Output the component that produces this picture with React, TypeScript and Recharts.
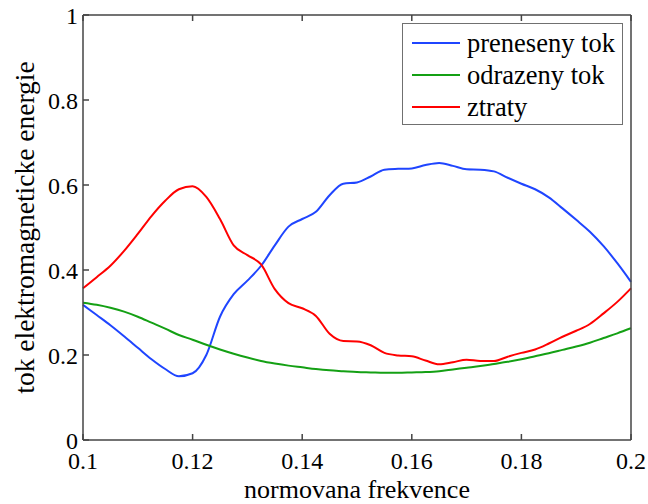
import React from 'react';
import { LineChart, Line, XAxis, YAxis, Legend } from 'recharts';

const FONT = "'Liberation Serif', 'DejaVu Serif', 'Noto Serif', Tinos, 'Times New Roman', Times, serif";

const frequencies = [
  0.1, 0.1025, 0.105, 0.1075, 0.11, 0.1125, 0.115, 0.1175, 0.12, 0.1225,
  0.125, 0.1275, 0.13, 0.1325, 0.135, 0.1375, 0.14, 0.1425, 0.145, 0.1475,
  0.15, 0.1525, 0.155, 0.1575, 0.16, 0.1625, 0.165, 0.1675, 0.17, 0.1725,
  0.175, 0.1775, 0.18, 0.1825, 0.185, 0.1875, 0.19, 0.1925, 0.195, 0.1975, 0.2,
];

const prenesenyTok = [
  0.318, 0.294, 0.27, 0.244, 0.217, 0.19, 0.167, 0.15, 0.157, 0.2,
  0.29, 0.343, 0.375, 0.41, 0.458, 0.502, 0.52, 0.537, 0.576, 0.603,
  0.606, 0.62, 0.636, 0.638, 0.639, 0.647, 0.652, 0.645, 0.637, 0.636,
  0.632, 0.617, 0.603, 0.59, 0.571, 0.545, 0.518, 0.49, 0.456, 0.416, 0.372,
];

const odrazenyTok = [
  0.323, 0.318, 0.311, 0.302, 0.29, 0.276, 0.262, 0.247, 0.236, 0.224,
  0.213, 0.203, 0.194, 0.186, 0.18, 0.175, 0.171, 0.167, 0.164, 0.162,
  0.16, 0.159, 0.158, 0.158, 0.159, 0.16, 0.162, 0.166, 0.17, 0.174,
  0.179, 0.184, 0.19, 0.197, 0.204, 0.212, 0.22, 0.229, 0.24, 0.251, 0.263,
];

const ztraty = [
  0.357, 0.383, 0.41, 0.445, 0.485, 0.527, 0.563, 0.59, 0.597, 0.572,
  0.52, 0.458, 0.435, 0.413, 0.355, 0.322, 0.31, 0.292, 0.25, 0.233,
  0.232, 0.223, 0.205, 0.199, 0.197, 0.187, 0.178, 0.183, 0.189, 0.186,
  0.186, 0.196, 0.205, 0.213, 0.227, 0.243, 0.257, 0.273, 0.298, 0.325, 0.357,
];

const xTicks = [0.1, 0.12, 0.14, 0.16, 0.18, 0.2];
const yTicks = [0, 0.2, 0.4, 0.6, 0.8, 1];

const seriesKeys = ['preneseny', 'odrazeny', 'ztraty'];
const seriesNames = ['preneseny tok', 'odrazeny tok', 'ztraty'];
const seriesColors = ['#1f45ff', '#14a014', '#ff0000'];

const data = frequencies.map((f, i) => ({
  f,
  preneseny: prenesenyTok[i],
  odrazeny: odrazenyTok[i],
  ztraty: ztraty[i],
}));

const AXIS_COLOR = '#444';
const tickStyle = { fill: '#000', fontSize: 24, fontFamily: FONT };

const LegendBox = () => (
  <div
    style={{
      boxSizing: 'border-box',
      width: 221,
      height: 102,
      border: '1px solid #707070',
      background: '#fff',
      paddingTop: 3,
      fontFamily: FONT,
      fontSize: 26.5,
      color: '#000',
    }}
  >
    {seriesNames.map((name, i) => (
      <div
        key={name}
        style={{ display: 'flex', alignItems: 'center', height: 32, lineHeight: '32px' }}
      >
        <svg width={48} height={4} style={{ display: 'block', marginLeft: 9, marginRight: 7 }}>
          <line x1={0} y1={2} x2={48} y2={2} stroke={seriesColors[i]} strokeWidth={2} />
        </svg>
        <span style={{ whiteSpace: 'nowrap' }}>{name}</span>
      </div>
    ))}
  </div>
);

export default function App() {
  return (
    <div style={{ position: 'absolute', left: 0, top: 0, width: 648, height: 504, background: '#fff', fontFamily: FONT }}>
      <LineChart width={648} height={504} data={data} margin={{ top: 0, right: 0, bottom: 0, left: 0 }}>
        <XAxis
          xAxisId="b"
          dataKey="f"
          type="number"
          domain={[0.1, 0.2]}
          ticks={xTicks}
          interval={0}
          height={64}
          stroke={AXIS_COLOR}
          strokeWidth={1.5}
          tickSize={-6}
          tickMargin={18}
          tick={tickStyle}
          tickFormatter={(v: number) => String(v)}
          label={{
            value: 'normovana frekvence',
            position: 'insideBottom',
            offset: 6,
            style: { fontFamily: FONT, fontSize: 26, fill: '#000' },
          }}
        />
        <XAxis
          xAxisId="t"
          dataKey="f"
          type="number"
          orientation="top"
          domain={[0.1, 0.2]}
          ticks={xTicks}
          interval={0}
          height={15}
          stroke={AXIS_COLOR}
          strokeWidth={1.5}
          tickSize={-6}
          tickFormatter={() => ''}
        />
        <YAxis
          yAxisId="l"
          type="number"
          domain={[0, 1]}
          ticks={yTicks}
          interval={0}
          width={83}
          stroke={AXIS_COLOR}
          strokeWidth={1.5}
          tickSize={-6}
          tickMargin={11}
          tick={tickStyle}
          tickFormatter={(v: number) => String(v)}
          label={{
            value: 'tok elektromagneticke energie',
            angle: -90,
            position: 'center',
            dx: -17,
            style: { fontFamily: FONT, fontSize: 27.5, fill: '#000', textAnchor: 'middle' },
          }}
        />
        <YAxis
          yAxisId="r"
          type="number"
          orientation="right"
          domain={[0, 1]}
          ticks={yTicks}
          interval={0}
          width={17}
          stroke={AXIS_COLOR}
          strokeWidth={1.5}
          tickSize={-6}
          tickFormatter={() => ''}
        />
        <Legend
          layout="vertical"
          align="center"
          verticalAlign="middle"
          content={() => <LegendBox />}
          wrapperStyle={{ left: 402, top: 23, width: 221, height: 102 }}
        />
        {seriesKeys.map((k, i) => (
          <Line
            key={k}
            xAxisId="b"
            yAxisId="l"
            dataKey={k}
            name={seriesNames[i]}
            type="monotone"
            stroke={seriesColors[i]}
            strokeWidth={2}
            dot={false}
            activeDot={false}
            isAnimationActive={false}
          />
        ))}
      </LineChart>
    </div>
  );
}
